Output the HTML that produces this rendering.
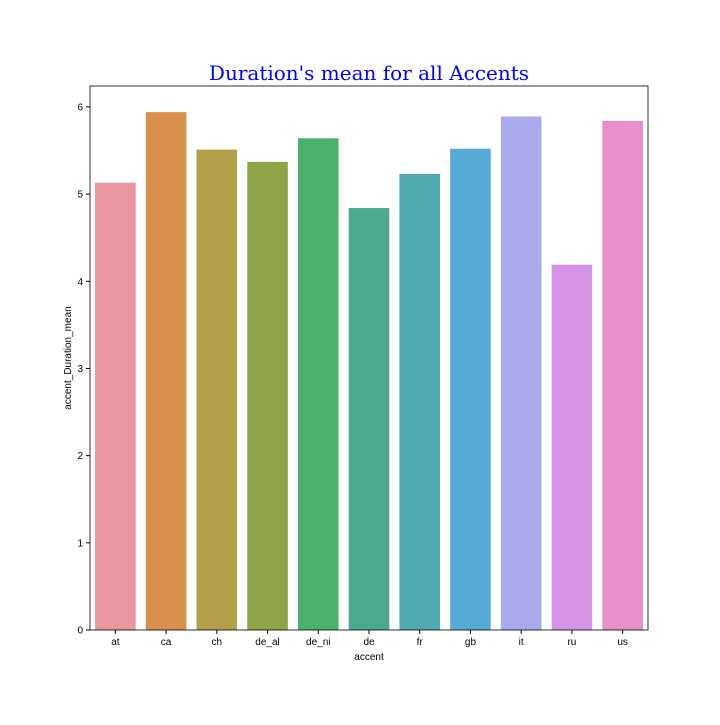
<!DOCTYPE html>
<html><head><meta charset="utf-8"><style>
body{margin:0;background:#fff;}
svg text{font-family:"Liberation Sans",sans-serif;}
</style></head><body>
<svg id="chart" width="720" height="720">
<rect width="720" height="720" fill="#fff"/>
<text x="369" y="80" text-anchor="middle" font-size="20" fill="#0000ff" style="font-family:'DejaVu Serif',serif">Duration's mean for all Accents</text>
<g id="bars"></g><g id="axes"></g>
</svg>
<script>
const categories=["at","ca","ch","de_al","de_ni","de","fr","gb","it","ru","us"];
const values=[5.13,5.94,5.51,5.37,5.64,4.84,5.23,5.52,5.89,4.19,5.84];
const colors=["#e9969f","#db8f4f","#b39f4a","#8fa547","#4cb168","#4aa98f","#4ea9b1","#56abd6","#a9a9eb","#d594e6","#e88fc9"];
const yTicks=[0,1,2,3,4,5,6];
const L=90,R=648,T=86,B=630,yMax=6.24;
const NS="http://www.w3.org/2000/svg";
const y=v=>B-(v/yMax)*(B-T);
const band=(R-L)/categories.length;
const x=i=>L+band*i;
const bars=document.getElementById('bars'),axes=document.getElementById('axes');
function mk(t,a,p){const e=document.createElementNS(NS,t);for(const k in a)e.setAttribute(k,a[k]);p.appendChild(e);return e;}
categories.forEach((c,i)=>{
 const r=mk('rect',{x:x(i)+band*0.1,y:y(values[i]),width:band*0.8,height:B-y(values[i]),fill:colors[i]},bars);
 
 
 mk('line',{x1:x(i)+band/2,x2:x(i)+band/2,y1:B,y2:B+4,stroke:'#000'},axes);
 const t=mk('text',{x:x(i)+band/2,y:B+15,'text-anchor':'middle','font-size':10},axes);t.textContent=c;
 
 
});
yTicks.forEach(v=>{
 mk('line',{x1:L-4,x2:L,y1:y(v),y2:y(v),stroke:'#000'},axes);
 const t=mk('text',{x:L-7,y:y(v)+3.5,'text-anchor':'end','font-size':10},axes);t.textContent=v;
 
 
});
const f=mk('rect',{x:L,y:T,width:R-L,height:B-T,fill:'none',stroke:'#000','stroke-width':0.8},axes);


const xl=mk('text',{x:(L+R)/2,y:660,'text-anchor':'middle','font-size':10},axes);xl.textContent='accent';


const yl=mk('text',{x:71,y:(T+B)/2,'text-anchor':'middle','font-size':10,transform:`rotate(-90 71 ${(T+B)/2})`},axes);yl.textContent='accent_Duration_mean';


</script>
</body></html>
